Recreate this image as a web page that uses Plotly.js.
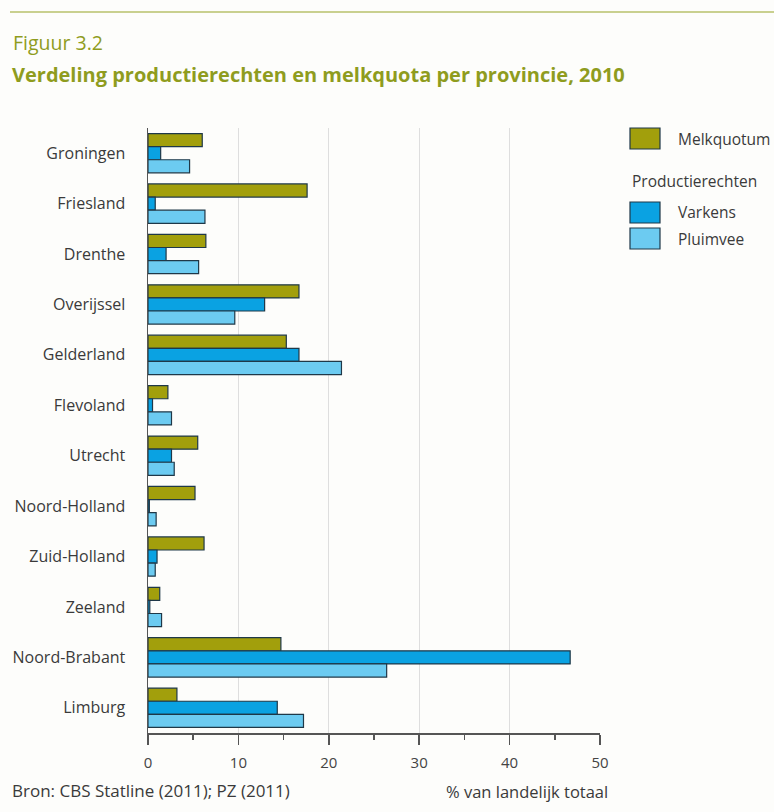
<!DOCTYPE html>
<html>
<head>
<meta charset="utf-8">
<script src="https://cdn.plot.ly/plotly-3.0.1.min.js"></script>
<style>html,body{margin:0;padding:0;background:#fdfdfb;}#chart{width:774px;height:812px;}</style>
</head>
<body>
<div id="chart"></div>
<script>
// ---- Data (% van landelijk totaal) ----
const provinces = ["Groningen","Friesland","Drenthe","Overijssel","Gelderland","Flevoland","Utrecht","Noord-Holland","Zuid-Holland","Zeeland","Noord-Brabant","Limburg"];
const melkquotum = [6.0, 17.6, 6.4, 16.7, 15.3, 2.2, 5.5, 5.2, 6.2, 1.3, 14.7, 3.2];
const varkens    = [1.4, 0.8, 2.0, 12.9, 16.7, 0.5, 2.6, 0.15, 1.0, 0.2, 46.7, 14.3];
const pluimvee   = [4.6, 6.3, 5.6, 9.6, 21.4, 2.6, 2.9, 0.9, 0.8, 1.5, 26.4, 17.2];
const seriesNames = ["Melkquotum", "Varkens", "Pluimvee"];
const legendGroupTitle = "Productierechten";
const xTicks = [0, 10, 20, 30, 40, 50];

// ---- Styles ----
const colors = ["#a29f0c", "#0aa2e2", "#6ccbf1"];
const outline = "#1f3848";
const font = "Open Sans, Noto Sans, sans-serif";
const textCol = "#3a3a3a";
const titleCol = "#8f9c1e";

const W = 774, H = 812;
const L = 148, R = 600, T = 128, B = 733;
const px = x => (x - L) / (R - L);
const py = y => 1 - (y - T) / (B - T);

const series = [melkquotum, varkens, pluimvee];
const traces = series.map((vals, i) => ({
  type: "bar",
  orientation: "h",
  name: seriesNames[i],
  y: provinces,
  x: vals,
  marker: {color: colors[i], line: {color: outline, width: 1.2}},
  showlegend: false,
  hoverinfo: "x+y+name"
}));

// Legend drawn with shapes + annotations
const legendItems = [
  {name: seriesNames[0], color: colors[0], y0: 128, y1: 149, ty: 139},
  {name: seriesNames[1], color: colors[1], y0: 202, y1: 223, ty: 212},
  {name: seriesNames[2], color: colors[2], y0: 228, y1: 249, ty: 239}
];
const shapes = [
  {type: "line", xref: "paper", yref: "paper", x0: px(10), x1: px(774), y0: py(12), y1: py(12),
   line: {color: "#c9d08f", width: 2}}
];
const annotations = [
  {text: "Figuur 3.2", xref: "paper", yref: "paper", x: px(11), y: py(42), xanchor: "left", yanchor: "middle",
   showarrow: false, font: {family: font, size: 19.5, color: titleCol}},
  {text: "<b>Verdeling productierechten en melkquota per provincie, 2010</b>", xref: "paper", yref: "paper",
   x: px(10), y: py(75), xanchor: "left", yanchor: "middle", showarrow: false,
   font: {family: font, size: 20, color: titleCol}},
  {text: legendGroupTitle, xref: "paper", yref: "paper", x: px(630), y: py(181), xanchor: "left", yanchor: "middle",
   showarrow: false, font: {family: font, size: 15.5, color: textCol}},
  {text: "Bron: CBS Statline (2011); PZ (2011)", xref: "paper", yref: "paper", x: px(10), y: py(790),
   xanchor: "left", yanchor: "middle", showarrow: false, font: {family: font, size: 17, color: textCol}},
  {text: "% van landelijk totaal", xref: "paper", yref: "paper", x: px(610), y: py(791),
   xanchor: "right", yanchor: "middle", showarrow: false, font: {family: font, size: 16.5, color: textCol}}
];
legendItems.forEach(it => {
  shapes.push({type: "rect", xref: "paper", yref: "paper", x0: px(630), x1: px(660), y0: py(it.y0), y1: py(it.y1),
    fillcolor: it.color, line: {color: outline, width: 1.2}});
  annotations.push({text: it.name, xref: "paper", yref: "paper", x: px(676), y: py(it.ty), xanchor: "left",
    yanchor: "middle", showarrow: false, font: {family: font, size: 15.5, color: textCol}});
});

const layout = {
  width: W, height: H,
  paper_bgcolor: "#fdfdfb", plot_bgcolor: "rgba(0,0,0,0)",
  margin: {l: L, r: W - R, t: T, b: H - B, pad: 0},
  barmode: "group", bargap: 0.22, bargroupgap: 0,
  showlegend: false,
  font: {family: font, color: textCol},
  xaxis: {
    range: [0, 50], tickvals: xTicks, ticktext: xTicks.map(String),
    showgrid: true, gridcolor: "#dedede", gridwidth: 1,
    zeroline: false, showline: true, linecolor: "#555", linewidth: 1.5,
    ticks: "outside", ticklen: 10, tickwidth: 1.5, tickcolor: "#555",
    minor: {dtick: 5, tick0: 0, ticks: "outside", ticklen: 5, tickwidth: 1.5, tickcolor: "#555", showgrid: false},
    tickfont: {family: font, size: 15, color: "#444"},
    ticklabelstandoff: 5,
    fixedrange: true
  },
  yaxis: {
    type: "category", categoryorder: "array", categoryarray: provinces, autorange: "reversed",
    showline: true, linecolor: "#555", linewidth: 1.5, showgrid: false, zeroline: false,
    ticks: "", ticklabelstandoff: 18,
    tickfont: {family: font, size: 16, color: textCol},
    fixedrange: true
  },
  shapes: shapes,
  annotations: annotations
};

Plotly.newPlot("chart", traces, layout, {displayModeBar: false, staticPlot: true});
</script>
</body>
</html>
